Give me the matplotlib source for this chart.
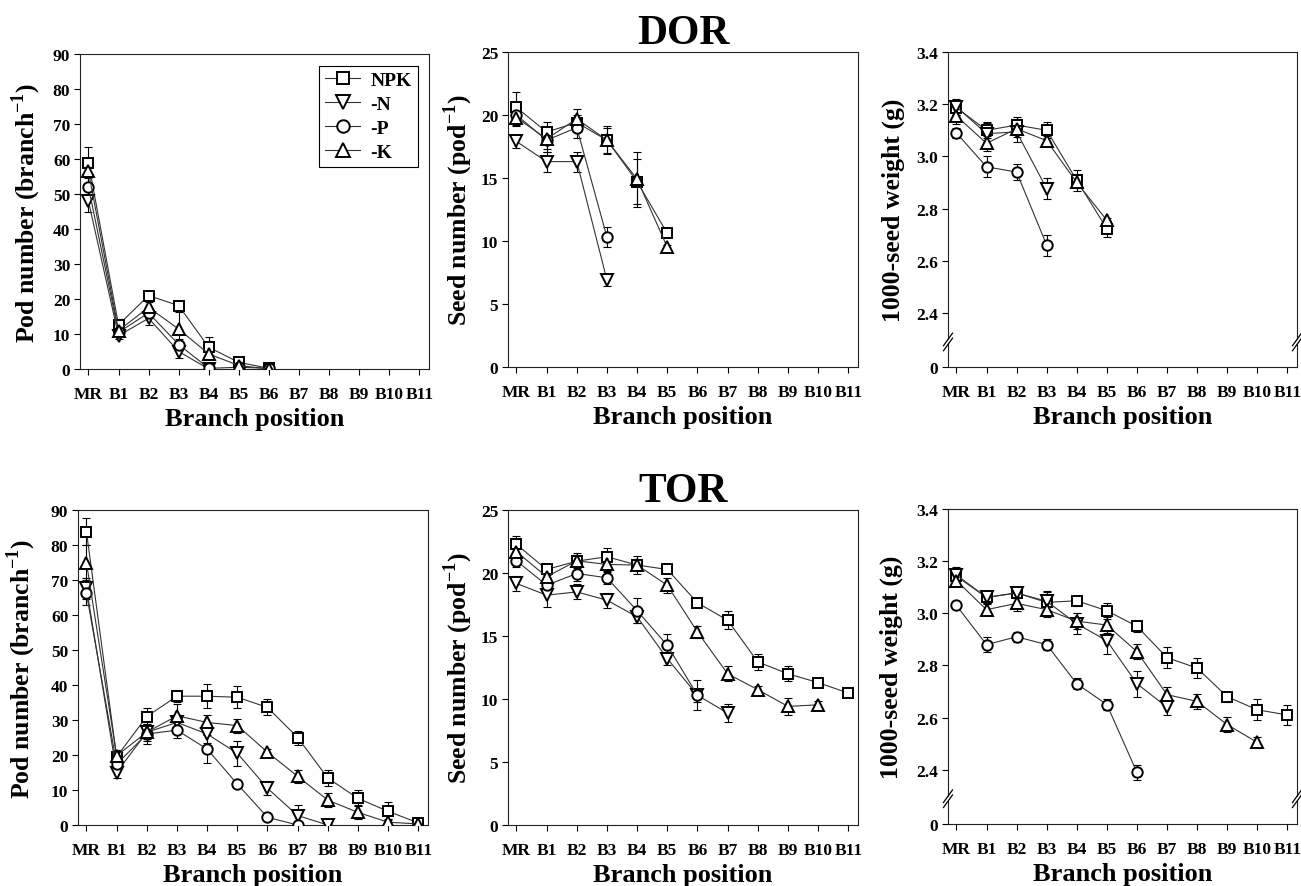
import numpy as np
import matplotlib
matplotlib.use("Agg")
import matplotlib.pyplot as plt

plt.rcParams['font.family'] = ['Liberation Serif', 'DejaVu Serif']
plt.rcParams['font.weight'] = 'bold'
plt.rcParams['mathtext.fontset'] = 'custom'
plt.rcParams['mathtext.rm'] = 'Liberation Serif:bold'
plt.rcParams['mathtext.bf'] = 'Liberation Serif:bold'

positions = ['MR', 'B1', 'B2', 'B3', 'B4', 'B5', 'B6', 'B7', 'B8', 'B9', 'B10', 'B11']
treatments = ['NPK', '-N', '-P', '-K']
markers = ['s', 'v', 'o', '^']
marker_sizes = [7, 8.5, 7.5, 8.5]

# ---- DOR ----
dor_pod_npk = [59, 12.6, 21, 18.1, 6.2, 1.9, 0.2]
dor_pod_n = [48, 9.5, 14.5, 5, 0]
dor_pod_p = [52, 10.5, 16, 7, 0.2, 0.5, 0.2]
dor_pod_k = [56.5, 11, 17.6, 11.4, 4.3, 1, 0]
dor_pod_npk_err = [4.5, 1.8, 1.2, 1.2, 3, 0.5, 0.3]
dor_pod_n_err = [3, 1, 2, 1.8, 0.3]
dor_pod_p_err = [3, 1, 1.5, 1.5, 0.3, 0.3, 0.3]
dor_pod_k_err = [3.5, 1.5, 1.5, 5, 1.5, 0.5, 0.3]

dor_seed_npk = [20.6, 18.65, 19.4, 18.0, 14.7, 10.6]
dor_seed_n = [17.9, 16.3, 16.3, 6.9]
dor_seed_p = [20.0, 18.0, 19.0, 10.3]
dor_seed_k = [19.8, 18.1, 19.7, 18.0, 14.9, 9.5]
dor_seed_npk_err = [1.2, 0.8, 0.6, 1.0, 1.8, 0.2]
dor_seed_n_err = [0.5, 0.8, 0.8, 0.5]
dor_seed_p_err = [0.8, 0.9, 0.8, 0.8]
dor_seed_k_err = [0.7, 0.8, 0.8, 1.1, 2.2, 0.2]

dor_wt_npk = [3.187, 3.10, 3.12, 3.10, 2.908, 2.723]
dor_wt_n = [3.19, 3.087, 3.094, 2.876]
dor_wt_p = [3.09, 2.96, 2.94, 2.66]
dor_wt_k = [3.155, 3.05, 3.106, 3.06, 2.90, 2.755]
dor_wt_npk_err = [0.03, 0.03, 0.03, 0.03, 0.04, 0.03]
dor_wt_n_err = [0.03, 0.04, 0.04, 0.04]
dor_wt_p_err = [0.02, 0.04, 0.03, 0.04]
dor_wt_k_err = [0.03, 0.03, 0.03, 0.02, 0.02, 0.01]

# ---- TOR ----
tor_pod_npk = [83.8, 19.5, 31, 36.8, 36.8, 36.5, 33.6, 25, 13.4, 7.6, 3.9, 0.6]
tor_pod_n = [67.7, 15, 26.5, 29.3, 26, 20.5, 10.5, 2.7, 0]
tor_pod_p = [66.2, 17.4, 26, 27.1, 21.7, 11.7, 2.2, 0]
tor_pod_k = [75, 19.8, 26.5, 31.2, 29.3, 28.4, 20.8, 13.9, 7.1, 3.6, 0.8, 0.3]
tor_pod_npk_err = [3.8, 1.5, 2.5, 1.7, 3.4, 3.1, 2.3, 2, 2.3, 2.3, 2.6, 0.3]
tor_pod_n_err = [3, 1.5, 2.5, 2, 2.5, 3.6, 2, 3, 0.3]
tor_pod_p_err = [3.4, 1.5, 2.8, 2.2, 4, 0.6, 0.5, 0.3]
tor_pod_k_err = [5, 1.5, 2, 3.5, 2, 2, 0.8, 1.8, 2, 2, 0.8, 0.3]

tor_seed_npk = [22.27, 20.28, 20.94, 21.29, 20.63, 20.28, 17.63, 16.25, 12.94, 12.0, 11.3, 10.47]
tor_seed_n = [19.17, 18.24, 18.5, 17.84, 16.52, 13.2, 10.3, 8.88]
tor_seed_p = [20.97, 19.03, 19.96, 19.62, 17.0, 14.26, 10.29]
tor_seed_k = [21.7, 19.7, 20.97, 20.68, 20.63, 19.03, 15.32, 12.0, 10.74, 9.41, 9.54]
tor_seed_npk_err = [0.7, 0.4, 0.5, 0.7, 0.5, 0.3, 0.3, 0.7, 0.6, 0.6, 0.3, 0.3]
tor_seed_n_err = [0.6, 0.9, 0.6, 0.6, 0.5, 0.5, 0.5, 0.7]
tor_seed_p_err = [0.5, 0.6, 0.6, 0.5, 1.0, 0.9, 1.2]
tor_seed_k_err = [0.6, 0.5, 0.6, 0.6, 0.7, 0.6, 0.5, 0.6, 0.3, 0.7, 0.3]

tor_wt_npk = [3.142, 3.061, 3.078, 3.042, 3.048, 3.01, 2.95, 2.83, 2.79, 2.68, 2.63, 2.61]
tor_wt_n = [3.147, 3.061, 3.078, 3.046, 2.96, 2.895, 2.73, 2.64]
tor_wt_p = [3.03, 2.88, 2.91, 2.88, 2.73, 2.65, 2.39]
tor_wt_k = [3.125, 3.014, 3.038, 3.014, 2.97, 2.955, 2.853, 2.688, 2.662, 2.573, 2.505]
tor_wt_npk_err = [0.03, 0.02, 0.02, 0.04, 0.02, 0.03, 0.02, 0.04, 0.04, 0.02, 0.04, 0.04]
tor_wt_n_err = [0.03, 0.02, 0.02, 0.04, 0.04, 0.05, 0.05, 0.03]
tor_wt_p_err = [0.01, 0.03, 0.02, 0.02, 0.02, 0.02, 0.03]
tor_wt_k_err = [0.02, 0.02, 0.03, 0.03, 0.03, 0.03, 0.03, 0.03, 0.03, 0.03, 0.02]

fig = plt.figure(figsize=(13.01, 8.87), dpi=100)
W, H = 1301.0, 887.0


def add_panel(l, r, t, b):
    return fig.add_axes([l / W, (H - b) / H, (r - l) / W, (b - t) / H])


def draw_series(ax, series, errs):
    for vals, err, m, ms, lab in zip(series, errs, markers, marker_sizes, treatments):
        x = np.arange(len(vals))
        ax.errorbar(x, vals, yerr=err, fmt='none', ecolor='black',
                    elinewidth=0.8, capsize=3, capthick=0.8, zorder=2)
        ax.plot(x, vals, color='#333333', lw=0.8, marker=m, ms=ms,
                mfc='white', mec='black', mew=1.4, label=lab, zorder=3)


def style_axes(ax, ylabel, ylab_x):
    ax.set_xlim(-0.28, 11.32)
    ax.set_xticks(np.arange(len(positions)))
    ax.set_xticklabels(positions)
    ax.tick_params(axis='both', direction='out', length=4, width=0.8,
                   labelsize=12.5, colors='black')
    ax.tick_params(axis='x', pad=8)
    ax.tick_params(axis='y', pad=3)
    for lab in ax.get_xticklabels() + ax.get_yticklabels():
        lab.set_fontweight('bold')
    for s in ax.spines.values():
        s.set_linewidth(0.8)
        s.set_color('#222222')
    ax.set_xlabel('Branch position', fontsize=19, fontweight='bold')
    ax.xaxis.set_label_coords(0.5, -0.12)
    ax.xaxis.label.set_va('top')
    ax.set_ylabel(ylabel, fontsize=18.5, fontweight='bold')
    ax.yaxis.set_label_coords(ylab_x, 0.5)


def broken_axis(ax, ybot):
    ax.set_ylim(ybot, 3.4)
    ax.set_yticks([ybot, 2.4, 2.6, 2.8, 3.0, 3.2, 3.4])
    ax.set_yticklabels(['0', '2.4', '2.6', '2.8', '3.0', '3.2', '3.4'])
    yb = (2.289 - ybot) / (3.4 - ybot)
    for xs in (0.0, 1.0):
        ax.add_patch(plt.Rectangle((xs - 0.01, yb - 0.006), 0.02, 0.012,
                                   transform=ax.transAxes, facecolor='white',
                                   edgecolor='none', clip_on=False, zorder=5))
        for dy in (-0.008, 0.008):
            ax.plot([xs - 0.013, xs + 0.013], [yb + dy - 0.02, yb + dy + 0.02],
                    transform=ax.transAxes, color='black', lw=0.9,
                    clip_on=False, zorder=6)


ylab_pod = 'Pod number (branch$^{\\mathbf{-1}}$)'
ylab_seed = 'Seed number (pod$^{\\mathbf{-1}}$)'
ylab_wt = '1000-seed weight (g)'

# top row: DOR
ax1 = add_panel(80, 429, 55, 370)
draw_series(ax1, [dor_pod_npk, dor_pod_n, dor_pod_p, dor_pod_k],
            [dor_pod_npk_err, dor_pod_n_err, dor_pod_p_err, dor_pod_k_err])
ax1.set_ylim(0, 90)
ax1.set_yticks(np.arange(0, 91, 10))
style_axes(ax1, ylab_pod, -0.105)
leg = ax1.legend(loc='upper right', bbox_to_anchor=(0.968, 0.963), fancybox=False,
                 edgecolor='black', framealpha=1, fontsize=14, handlelength=1.8,
                 borderpad=0.3, labelspacing=0.33, handletextpad=0.55,
                 borderaxespad=0, markerscale=1.2)
leg.get_frame().set_linewidth(0.8)
for t in leg.get_texts():
    t.set_fontweight('bold')

ax2 = add_panel(508, 858, 53, 368)
draw_series(ax2, [dor_seed_npk, dor_seed_n, dor_seed_p, dor_seed_k],
            [dor_seed_npk_err, dor_seed_n_err, dor_seed_p_err, dor_seed_k_err])
ax2.set_ylim(0, 25)
ax2.set_yticks(np.arange(0, 26, 5))
style_axes(ax2, ylab_seed, -0.094)
ax2.set_title('DOR', fontsize=30, fontweight='bold', pad=5)

ax3 = add_panel(948, 1297, 53, 368)
draw_series(ax3, [dor_wt_npk, dor_wt_n, dor_wt_p, dor_wt_k],
            [dor_wt_npk_err, dor_wt_n_err, dor_wt_p_err, dor_wt_k_err])
broken_axis(ax3, 2.193)
style_axes(ax3, ylab_wt, -0.123)

# bottom row: TOR
ax4 = add_panel(78, 428, 511, 826)
draw_series(ax4, [tor_pod_npk, tor_pod_n, tor_pod_p, tor_pod_k],
            [tor_pod_npk_err, tor_pod_n_err, tor_pod_p_err, tor_pod_k_err])
ax4.set_ylim(0, 90)
ax4.set_yticks(np.arange(0, 91, 10))
style_axes(ax4, ylab_pod, -0.114)

ax5 = add_panel(508, 858, 511, 826)
draw_series(ax5, [tor_seed_npk, tor_seed_n, tor_seed_p, tor_seed_k],
            [tor_seed_npk_err, tor_seed_n_err, tor_seed_p_err, tor_seed_k_err])
ax5.set_ylim(0, 25)
ax5.set_yticks(np.arange(0, 26, 5))
style_axes(ax5, ylab_seed, -0.094)
ax5.set_title('TOR', fontsize=30, fontweight='bold', pad=5)

ax6 = add_panel(948, 1297, 510, 825)
draw_series(ax6, [tor_wt_npk, tor_wt_n, tor_wt_p, tor_wt_k],
            [tor_wt_npk_err, tor_wt_n_err, tor_wt_p_err, tor_wt_k_err])
broken_axis(ax6, 2.192)
style_axes(ax6, ylab_wt, -0.129)

fig.savefig('out.png', dpi=100, facecolor='white')
plt.close(fig)
